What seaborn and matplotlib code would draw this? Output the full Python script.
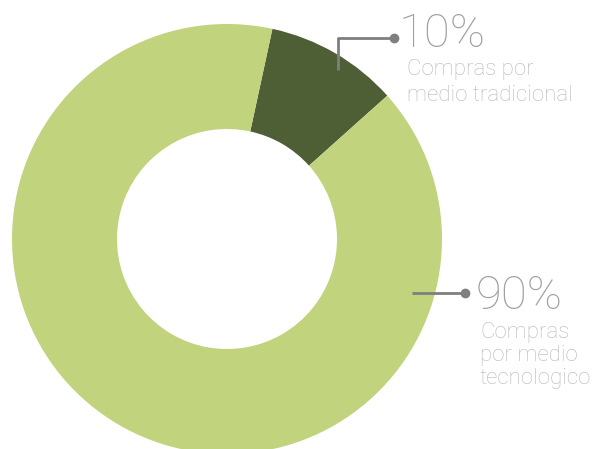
import matplotlib
matplotlib.use("Agg")
import matplotlib.pyplot as plt
import seaborn as sns

sns.set_theme(style="white")
plt.rcParams['font.family'] = ['Roboto', 'DejaVu Sans']

# Data
categories = ["Compras por medio tradicional", "Compras por medio tecnologico"]
values = [10, 90]
pct_labels = ["10%", "90%"]
label_lines = [["Compras por", "medio tradicional"],
               ["Compras", "por medio", "tecnologico"]]
colors = ["#4e5e35", "#c2d37e"]

W, H = 603, 449
fig = plt.figure(figsize=(W / 100, H / 100), dpi=100)
ax = fig.add_axes([0, 0, 1, 1])

cx, cy, r = 227, H - 239, 215
ax.pie(values, colors=colors, startangle=77.8, counterclock=False,
       center=(cx, cy), radius=r,
       wedgeprops=dict(width=r - 110, linewidth=0), frame=True)
ax.set_xlim(0, W)
ax.set_ylim(0, H)
ax.set_aspect("equal")
ax.axis("off")

line_col = "#7f7f7f"
# leader for 10%
ax.plot([338, 338, 393], [H - 70, H - 38, H - 38], color=line_col, lw=2, solid_capstyle="butt")
ax.plot([394], [H - 38], "o", color=line_col, ms=6)
# leader for 90%
ax.plot([412, 465], [H - 293, H - 293], color=line_col, lw=2, solid_capstyle="butt")
ax.plot([465], [H - 293], "o", color=line_col, ms=6)

pct_pos = [(399, 47), (476, 309)]
sub_pos = [(407, 75, 26), (480, 338, 23)]
for i in range(2):
    px, py = pct_pos[i]
    ax.text(px, H - py, pct_labels[i], fontsize=34, fontweight="light",
            color="#a0a0a0", ha="left", va="baseline")
    sx, sy, dy = sub_pos[i]
    for j, ln in enumerate(label_lines[i]):
        ax.text(sx, H - (sy + j * dy), ln, fontsize=16, fontweight="light",
                color="#b8b8b8", ha="left", va="baseline")

fig.savefig("out.png", dpi=100)
